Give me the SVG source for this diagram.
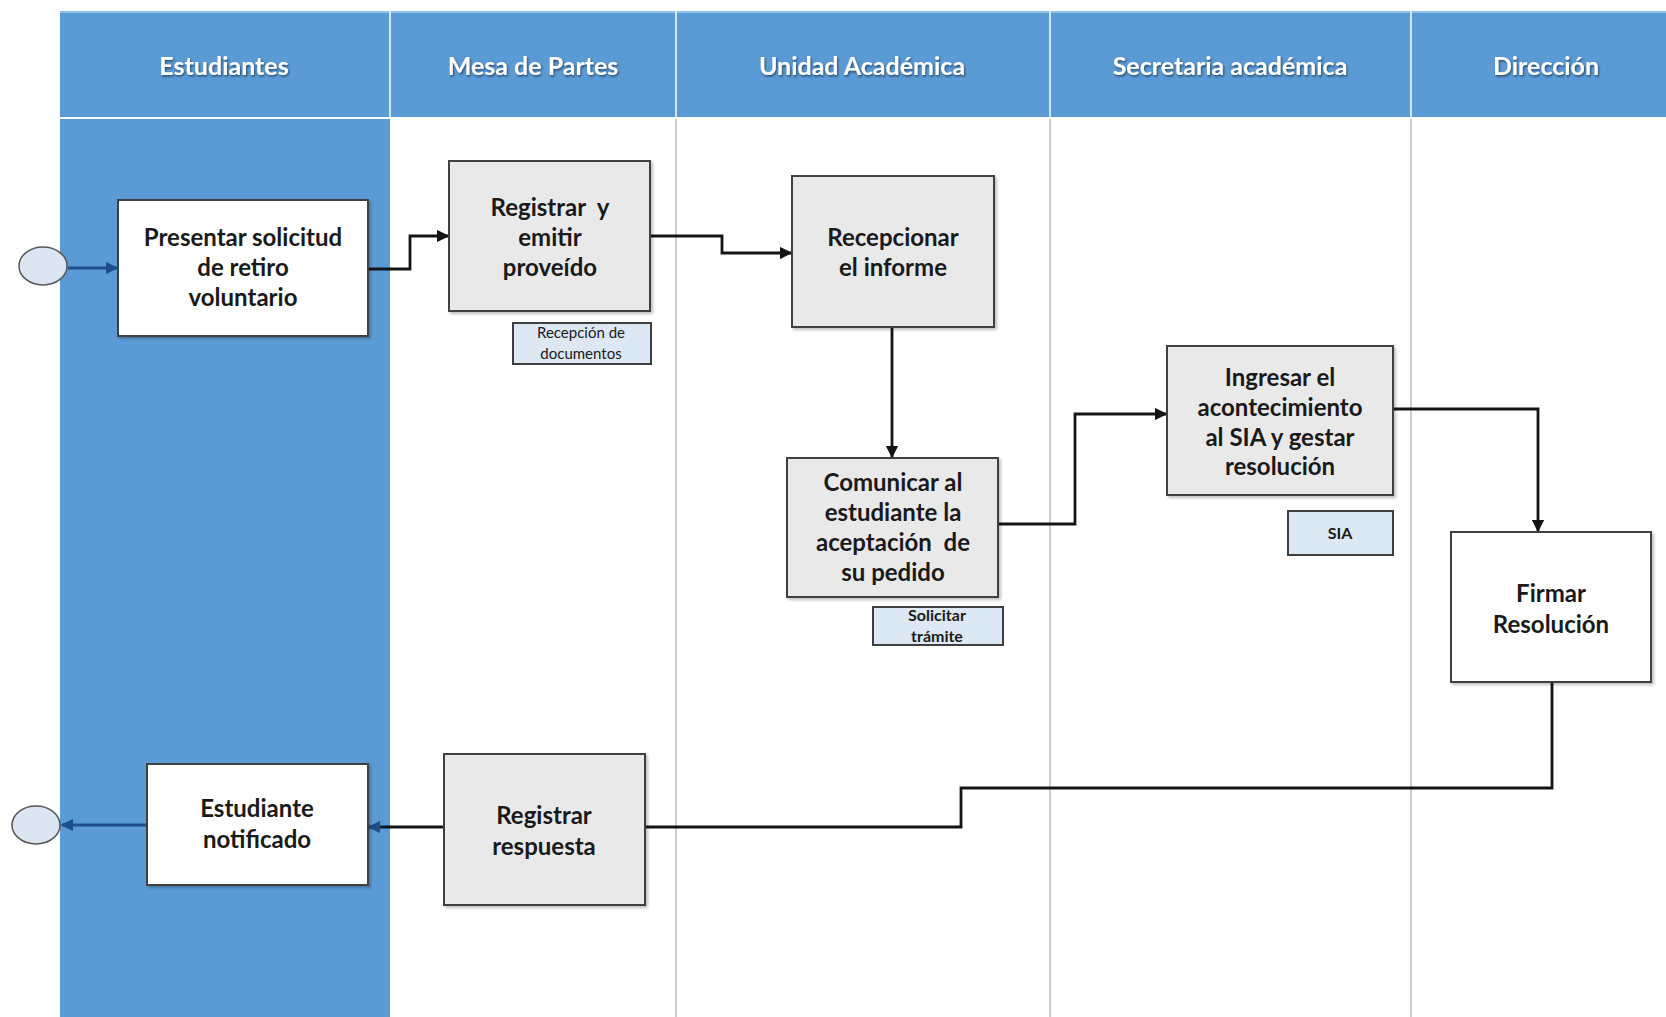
<svg xmlns="http://www.w3.org/2000/svg" width="1666" height="1017" viewBox="0 0 1666 1017">
<defs>
<style>
.hdr{font-family:Lato,"Liberation Sans",sans-serif;font-weight:bold;font-size:25px;fill:#ffffff;text-anchor:middle;filter:url(#tsh)}
.lbl{font-family:Lato,"Liberation Sans",sans-serif;font-weight:bold;font-size:24px;fill:#1a1a1a;text-anchor:middle}
.sml{font-family:Lato,"Liberation Sans",sans-serif;font-size:15px;fill:#1a1a1a;text-anchor:middle}
.smb{font-family:Lato,"Liberation Sans",sans-serif;font-weight:bold;font-size:16px;fill:#1a1a1a;text-anchor:middle}
.box{stroke:#3f3f3f;stroke-width:2}
.white{fill:#ffffff}
.gray{fill:#e9e9ea}
.doc{fill:#dce8f4;stroke:#3f3f3f;stroke-width:2}
.ev{fill:#dce6f2;stroke:#555;stroke-width:1.5}
.con{fill:none;stroke:#141414;stroke-width:2.8}
.conb{fill:none;stroke:#1f4e8c;stroke-width:2.8}
.sep{stroke:#a7adb4;stroke-width:1.2}
.hsep{stroke:#cfe6f7;stroke-width:2}
</style>
<filter id="tsh" x="-10%" y="-30%" width="120%" height="160%">
<feDropShadow dx="1" dy="1.5" stdDeviation="0.8" flood-color="#1d3552" flood-opacity="0.85"/>
</filter>
<filter id="bsh" x="-5%" y="-5%" width="115%" height="115%">
<feDropShadow dx="2" dy="2" stdDeviation="1.5" flood-color="#000" flood-opacity="0.25"/>
</filter>
<marker id="arr" viewBox="0 0 10 10" refX="9" refY="5" markerWidth="4.5" markerHeight="4.5" orient="auto" markerUnits="strokeWidth">
<path d="M0,0 L10,5 L0,10 z" fill="#141414"/>
</marker>
<marker id="arrb" viewBox="0 0 10 10" refX="9" refY="5" markerWidth="4.5" markerHeight="4.5" orient="auto" markerUnits="strokeWidth">
<path d="M0,0 L10,5 L0,10 z" fill="#1f4e8c"/>
</marker>
</defs>
<rect x="0" y="0" width="1666" height="1017" fill="#ffffff"/>
<g id="lanes">
<rect x="60" y="11" width="1606" height="106" fill="#5b9bd5"/>
<line x1="60" y1="12" x2="1666" y2="12" stroke="#8cc0ea" stroke-width="2"/>
<rect x="60" y="119" width="330" height="898" fill="#5b9bd5"/>
<line class="hsep" x1="390" y1="11" x2="390" y2="117"/>
<line class="hsep" x1="676" y1="11" x2="676" y2="117"/>
<line class="hsep" x1="1050" y1="11" x2="1050" y2="117"/>
<line class="hsep" x1="1411" y1="11" x2="1411" y2="117"/>
<line class="sep" x1="676" y1="119" x2="676" y2="1017"/>
<line class="sep" x1="1050" y1="119" x2="1050" y2="1017"/>
<line class="sep" x1="1411" y1="119" x2="1411" y2="1017"/>
<text class="hdr" x="224" y="75">Estudiantes</text>
<text class="hdr" x="533" y="75">Mesa de Partes</text>
<text class="hdr" x="862" y="75">Unidad Académica</text>
<text class="hdr" x="1230" y="75">Secretaria académica</text>
<text class="hdr" x="1546" y="75">Dirección</text>
</g>
<g id="connectors">
<line class="conb" x1="68" y1="268" x2="117" y2="268" marker-end="url(#arrb)"/>
<polyline class="con" points="368,269 410,269 410,236 448,236" marker-end="url(#arr)"/>
<polyline class="con" points="650,236 722,236 722,253 791,253" marker-end="url(#arr)"/>
<line class="con" x1="892" y1="327" x2="892" y2="457" marker-end="url(#arr)"/>
<polyline class="con" points="998,524 1075,524 1075,414 1166,414" marker-end="url(#arr)"/>
<polyline class="con" points="1393,409 1538,409 1538,531" marker-end="url(#arr)"/>
<polyline class="con" points="1552,682 1552,788 961,788 961,827 645,827"/>
<line class="con" x1="444" y1="827" x2="369" y2="827" marker-end="url(#arrb)"/>
<line class="conb" x1="147" y1="825" x2="62" y2="825" marker-end="url(#arrb)"/>
</g>
<g id="start">
<ellipse class="ev" cx="43" cy="266" rx="24" ry="19"/>
</g>
<g id="end">
<ellipse class="ev" cx="36" cy="825" rx="24" ry="19"/>
</g>
<g id="presentar">
<rect class="box white" x="118" y="200" width="250" height="136" filter="url(#bsh)"/>
<text class="lbl" x="243" y="246">Presentar solicitud</text>
<text class="lbl" x="243" y="276">de retiro</text>
<text class="lbl" x="243" y="306">voluntario</text>
</g>
<g id="registrar">
<rect class="box gray" x="449" y="161" width="201" height="150" filter="url(#bsh)"/>
<text class="lbl" x="550" y="216" xml:space="preserve">Registrar  y</text>
<text class="lbl" x="550" y="246">emitir</text>
<text class="lbl" x="550" y="276">proveído</text>
</g>
<g id="recepcion-doc">
<rect class="doc" x="513" y="323" width="138" height="41"/>
<text class="sml" x="581" y="338">Recepción de</text>
<text class="sml" x="581" y="359">documentos</text>
</g>
<g id="recepcionar">
<rect class="box gray" x="792" y="176" width="202" height="151" filter="url(#bsh)"/>
<text class="lbl" x="893" y="246">Recepcionar</text>
<text class="lbl" x="893" y="276">el informe</text>
</g>
<g id="comunicar">
<rect class="box gray" x="787" y="458" width="211" height="139" filter="url(#bsh)"/>
<text class="lbl" x="893" y="491">Comunicar al</text>
<text class="lbl" x="893" y="521">estudiante la</text>
<text class="lbl" x="893" y="551" xml:space="preserve">aceptación  de</text>
<text class="lbl" x="893" y="581">su pedido</text>
</g>
<g id="solicitar">
<rect class="doc" x="873" y="607" width="130" height="38"/>
<text class="smb" x="937" y="621">Solicitar</text>
<text class="smb" x="937" y="642">trámite</text>
</g>
<g id="ingresar">
<rect class="box gray" x="1167" y="346" width="226" height="149" filter="url(#bsh)"/>
<text class="lbl" x="1280" y="386">Ingresar el</text>
<text class="lbl" x="1280" y="416">acontecimiento</text>
<text class="lbl" x="1280" y="446">al SIA y gestar</text>
<text class="lbl" x="1280" y="475">resolución</text>
</g>
<g id="sia">
<rect class="doc" x="1288" y="511" width="105" height="44"/>
<text class="smb" x="1340" y="539">SIA</text>
</g>
<g id="firmar">
<rect class="box white" x="1451" y="532" width="200" height="150" filter="url(#bsh)"/>
<text class="lbl" x="1551" y="602">Firmar</text>
<text class="lbl" x="1551" y="633">Resolución</text>
</g>
<g id="registrar-respuesta">
<rect class="box gray" x="444" y="754" width="201" height="151" filter="url(#bsh)"/>
<text class="lbl" x="544" y="824">Registrar</text>
<text class="lbl" x="544" y="855">respuesta</text>
</g>
<g id="notificado">
<rect class="box white" x="147" y="764" width="221" height="121" filter="url(#bsh)"/>
<text class="lbl" x="257" y="817">Estudiante</text>
<text class="lbl" x="257" y="848">notificado</text>
</g>
</svg>
